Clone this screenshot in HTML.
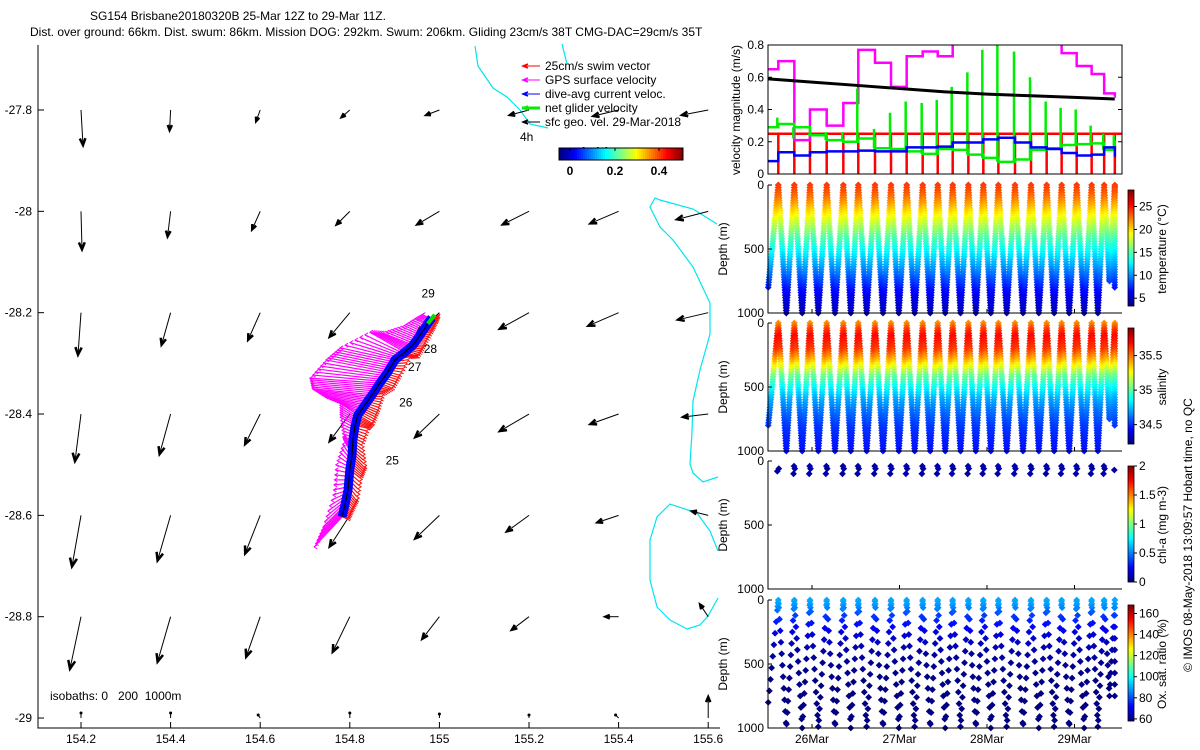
<!DOCTYPE html>
<html><head><meta charset="utf-8">
<style>
html,body{margin:0;padding:0;background:#fff;}
svg{display:block;font-family:"Liberation Sans",sans-serif;}
</style></head>
<body>
<svg id="fig" width="1200" height="750" viewBox="0 0 1200 750" xmlns="http://www.w3.org/2000/svg">
<g id="map"></g>
<g id="right"></g>
</svg>
<script>
// ===== MAP DATA =====
const mapLonTicks = [154.2,154.4,154.6,154.8,155,155.2,155.4,155.6];
const mapLatTicks = [-27.8,-28,-28.2,-28.4,-28.6,-28.8,-29];
const fieldU = [
 [0.02,-0.01,-0.04,-0.08,-0.13,-0.19,-0.25,-0.26],
 [0.01,-0.03,-0.08,-0.13,-0.22,-0.26,-0.28,-0.31],
 [-0.03,-0.09,-0.12,-0.20,-0.22,-0.29,-0.30,-0.30],
 [-0.06,-0.11,-0.15,-0.20,-0.24,-0.29,-0.28,-0.25],
 [-0.09,-0.13,-0.15,-0.20,-0.24,-0.22,-0.21,-0.16],
 [-0.11,-0.13,-0.14,-0.17,-0.17,-0.17,-0.13,-0.08],
 [0,0,-0.02,0,0,0,-0.03,0]];
const fieldV = [
 [-0.35,-0.20,-0.11,-0.07,-0.05,-0.05,-0.06,-0.05],
 [-0.38,-0.25,-0.18,-0.13,-0.13,-0.13,-0.12,-0.08],
 [-0.42,-0.32,-0.27,-0.24,-0.20,-0.16,-0.13,-0.07],
 [-0.47,-0.40,-0.30,-0.27,-0.23,-0.17,-0.10,-0.03],
 [-0.51,-0.45,-0.38,-0.31,-0.23,-0.16,-0.07,0.04],
 [-0.52,-0.45,-0.40,-0.35,-0.22,-0.13,0,0.12],
 [0.05,0.05,0.03,0.05,0.04,0.03,0.03,0.21]];
const trackLon = [154.783,154.789,154.796,154.800,154.805,154.807,154.812,154.818,154.834,154.850,154.867,154.885,154.901,154.923,154.941,154.957,154.972,154.983];
const trackLat = [-28.603,-28.580,-28.550,-28.510,-28.481,-28.451,-28.422,-28.402,-28.382,-28.362,-28.339,-28.317,-28.293,-28.278,-28.264,-28.244,-28.224,-28.210];
const gpsU = [-0.28,-0.22,-0.15,-0.14,-0.08,-0.10,-0.15,-0.18,-0.40,-0.60,-0.70,-0.62,-0.55,-0.35,-0.30,-0.18,-0.12,-0.08];
const gpsV = [-0.30,-0.22,-0.05,0.05,0.15,0.03,0.08,0.12,0.08,0.06,0.05,0.12,0.12,0.20,0.12,0.08,0.06,0.04];
const swimU = [0.05,0.06,0.08,0.10,0.12,0.08,0.12,0.14,0.12,0.10,0.12,0.11,0.14,0.12,0.10,0.10,0.08,0.06];
const swimV = [-0.02,-0.05,-0.10,-0.08,-0.12,-0.05,-0.03,-0.08,-0.05,0.01,-0.05,-0.03,0.03,-0.04,0.00,0.03,0.03,0.03];
const dayLabels = ["29","28","27","26","25"];
const dayLon = [154.96,154.965,154.93,154.91,154.88];
const dayLat = [-28.17,-28.28,-28.315,-28.385,-28.50];

// ===== TIME SERIES DATA =====
const surfTimes = [25.615,25.798,25.977,26.168,26.358,26.529,26.72,26.903,27.082,27.265,27.437,27.608,27.787,27.958,28.13,28.32,28.503,28.682,28.853,29.025,29.196,29.339,29.461];
const tStart = 25.5, tEnd = 29.458;
const dacVel = [0.08,0.135,0.115,0.135,0.14,0.14,0.145,0.14,0.14,0.165,0.165,0.17,0.195,0.195,0.215,0.225,0.195,0.165,0.155,0.13,0.115,0.12,0.165,0.11];
const netVel = [0.29,0.31,0.29,0.24,0.21,0.20,0.22,0.16,0.155,0.14,0.125,0.155,0.15,0.12,0.10,0.075,0.09,0.15,0.16,0.18,0.185,0.19,0.15,0.20];
const netSpike = [0.35,0.22,0.25,0.26,0.26,0.53,0.28,0.38,0.45,0.44,0.46,0.54,0.63,0.77,0.80,0.76,0.60,0.45,0.41,0.40,0.30,0.25,0.24];
const gpsVel = [0.65,0.70,0.21,0.40,0.30,0.44,0.77,0.69,0.54,0.73,0.76,0.73,0.85,0.85,0.85,0.85,0.85,0.85,0.85,0.75,0.67,0.62,0.50,0.48];
const geoTimes = [25.5,26.0,26.5,27.0,27.5,28.0,28.5,29.0,29.46];
const geoVel = [0.59,0.57,0.55,0.53,0.51,0.495,0.485,0.475,0.465];
const swimVel = 0.25;
const profDepth = [0,50,100,200,300,400,500,600,700,800,900,1000];
const profTemp = [24,23.5,22.5,20,17.5,15,13,11,9,7,5.5,4.5];
const profSal = [35.45,35.6,35.68,35.6,35.35,35.05,34.85,34.7,34.6,34.52,34.48,34.45];
const profOxy = [90,88,80,72,66,62,60,59,58,58,58,58];
const chlVal = [0.08,0.06,0.08,0.1,0.05,0.08,0.06,0.08,0.1,0.08,0.08,0.1,0.06,0.08,0.08,0.1,0.08,0.06,0.08,0.1,0.08,0.08,0.08];
const dateTicks = [26,27,28,29];
const dateLabels = ["26Mar","27Mar","28Mar","29Mar"];

const NS="http://www.w3.org/2000/svg";
function mk(tag,attrs,parent,txt){const e=document.createElementNS(NS,tag);for(const k in attrs)e.setAttribute(k,attrs[k]);if(txt!==undefined)e.textContent=txt;parent.appendChild(e);return e;}
function jet(f){f=Math.max(0,Math.min(1,f));const r=Math.max(0,Math.min(1,1.5-Math.abs(4*f-3)));const g=Math.max(0,Math.min(1,1.5-Math.abs(4*f-2)));const b=Math.max(0,Math.min(1,1.5-Math.abs(4*f-1)));return `rgb(${Math.round(r*255)},${Math.round(g*255)},${Math.round(b*255)})`;}
function interp(xs,ys,x){if(x<=xs[0])return ys[0];for(let i=1;i<xs.length;i++){if(x<=xs[i]){const f=(x-xs[i-1])/(xs[i]-xs[i-1]);return ys[i-1]+f*(ys[i]-ys[i-1]);}}return ys[ys.length-1];}

// ===== MAP =====
const map=document.getElementById('map');
const lonX = lon => 81 + (lon-154.2)*448;
const latY = lat => 110 + (-27.8-lat)*506.7;
const VS = 100;
let t;
t=mk('text',{x:90,y:20,'font-size':12},map,'SG154 Brisbane20180320B 25-Mar 12Z to 29-Mar 11Z.');

t=mk('text',{x:30,y:36,'font-size':12},map,'Dist. over ground: 66km. Dist. swum: 86km. Mission DOG: 292km. Swum: 206km. Gliding 23cm/s 38T CMG-DAC=29cm/s 35T');

let ax=mk('path',{d:'M38 45 V728 H720',stroke:'#000',fill:'none','stroke-width':1},map);

mapLatTicks.forEach(v=>{const y=latY(v);mk('line',{x1:38,x2:44,y1:y,y2:y,stroke:'#000'},map);
 const l=mk('text',{x:32,y:y+4,'font-size':12,'text-anchor':'end'},map,String(v));
 });
mapLonTicks.forEach(v=>{const x=lonX(v);mk('line',{x1:x,x2:x,y1:728,y2:722,stroke:'#000'},map);
 const l=mk('text',{x:x,y:743,'font-size':12,'text-anchor':'middle'},map,String(v));
 });
[['M475 46 L478 66 L493 88 L507 97 L520 110 L530 124 L548 128','M562 44 L567 64'],
 ['M717 224 L693 209 L660 200 L655 198 L650 207 L660 227 L673 240 L693 267 L710 303 L710 334 L700 370 L693 401 L692 432 L690 464 L693 473 L703 482 L718 477'],
 ['M718 551 L710 531 L697 513 L670 504 L657 517 L650 540 L650 580 L657 607 L670 620 L687 629 L700 625 L708 616 L718 598']].forEach(ds=>ds.forEach(d=>{
 const c=mk('path',{d:d,stroke:'#00e5ee',fill:'none','stroke-width':1.2},map);
 }));
function arrow(parent,x,y,u,v,color,w,head){
 const x2=x+u*VS,y2=y-v*VS;const L=Math.hypot(x2-x,y2-y);
 const g=mk('g',{},parent);
 mk('line',{x1:x,y1:y,x2:x2,y2:y2,stroke:color,'stroke-width':w},g);
 if(L>8){const a=Math.atan2(y2-y,x2-x);const h=head;
  const p1=[x2-h*Math.cos(a-0.4),y2-h*Math.sin(a-0.4)],p2=[x2-h*Math.cos(a+0.4),y2-h*Math.sin(a+0.4)];
  mk('path',{d:`M${p1[0]} ${p1[1]} L${x2} ${y2} L${p2[0]} ${p2[1]}`,stroke:color,'stroke-width':2.5,fill:'none'},g);}
 else if(L>1){mk('circle',{cx:x2,cy:y2,r:1.5,fill:color},g);}
 return g;}
mapLatTicks.forEach((lat,r)=>mapLonTicks.forEach((lon,c)=>{
 const g=arrow(map,lonX(lon),latY(lat),fieldU[r][c],fieldV[r][c],'#000',1,Math.min(9,3+Math.hypot(fieldU[r][c],fieldV[r][c])*12));
 }));
function fan(U,V,color,name){
 const g=mk('g',{},map);
 for(let i=0;i<trackLon.length-1;i++){
  const x0=lonX(trackLon[i]),y0=latY(trackLat[i]),x1=lonX(trackLon[i+1]),y1=latY(trackLat[i+1]);
  for(let s=0;s<6;s++){const f=s/6;const xs=x0+(x1-x0)*f,ys=y0+(y1-y0)*f;const u=U[i]+(U[i+1]-U[i])*f,v=V[i]+(V[i+1]-V[i])*f;
   mk('line',{x1:xs,y1:ys,x2:xs+u*VS,y2:ys-v*VS,stroke:color,'stroke-width':1.2},g);
   mk('path',{d:`M${xs+u*VS+3} ${ys-v*VS-2} L${xs+u*VS} ${ys-v*VS} L${xs+u*VS+3} ${ys-v*VS+2}`,stroke:color,fill:'none','stroke-width':1},g);}}}
fan(swimU,swimV,'#ff1010','swim-vector-fan');
fan(gpsU,gpsV,'#ff00ff','gps-surface-velocity-fan');
let tp=trackLon.map((l,i)=>`${lonX(l)},${latY(trackLat[i])}`).join(' ');
let bl=mk('polyline',{points:tp,fill:'none',stroke:'#0000ff','stroke-width':9,'stroke-linejoin':'round'},map);

bl=mk('polyline',{points:tp,fill:'none',stroke:'#000','stroke-width':1.2},map);

const last=trackLon.length-1;
bl=mk('line',{x1:lonX(trackLon[last])-4,y1:latY(trackLat[last])+6,x2:lonX(trackLon[last])+3,y2:latY(trackLat[last])-3,stroke:'#00e000','stroke-width':4},map);

dayLabels.forEach((d,i)=>{const l=mk('text',{x:lonX(dayLon[i]),y:latY(dayLat[i]),'font-size':12},map,d);
 });
const legItems=[['#ff0000','25cm/s swim vector',1],['#ff00ff','GPS surface velocity',1],['#0000ff','dive-avg current veloc.',1],['#00ee00','net glider velocity',3],['#000','sfc geo. vel. 29-Mar-2018',1]];
legItems.forEach((it,i)=>{const y=66+i*14;const g=mk('g',{},map);
 
 mk('line',{x1:522,x2:540,y1:y,y2:y,stroke:it[0],'stroke-width':it[2]},g);
 mk('path',{d:`M528 ${y-2} L523 ${y} L528 ${y+2}`,stroke:it[0],fill:'none','stroke-width':1.5},g);
 mk('text',{x:545,y:y+4,'font-size':12},g,it[1]);});
t=mk('text',{x:520,y:141,'font-size':12},map,'4h');
t=mk('text',{x:595,y:156,'font-size':12,'font-weight':'bold','text-anchor':'middle'},map,'(m/s)');
const cbg=mk('g',{},map);
for(let i=0;i<62;i++)mk('rect',{x:559+i*2,y:148,width:2.2,height:12,fill:jet(i/61)},cbg);
mk('rect',{x:559,y:148,width:124,height:12,fill:'none',stroke:'#000'},cbg);
[['0',570],['0.2',615],['0.4',659]].forEach(a=>{mk('text',{x:a[1],y:175,'font-size':12,'font-weight':'bold','text-anchor':'middle'},cbg,a[0]);mk('line',{x1:a[1],x2:a[1],y1:148,y2:151,stroke:'#000'},cbg);});
t=mk('text',{x:50,y:700,'font-size':12},map,'isobaths: 0\u00a0\u00a0\u00a0200\u00a0\u00a01000m');

// ===== RIGHT PANELS =====
const R=document.getElementById('right');
const X0=768,X1=1122;
const tX = d => 812 + (d-26)*87.5;
const vTop=45,vBot=174;
const vY = v => vBot - Math.min(v,0.82)/0.8*(vBot-vTop);
const vp=mk('g',{},R);
const vclip=mk('clipPath',{id:'vclip'},vp);mk('rect',{x:X0,y:vTop,width:X1-X0,height:vBot-vTop},vclip);
const vd=mk('g',{'clip-path':'url(#vclip)'},vp);
const bounds=[tStart].concat(surfTimes).concat([tEnd]);
function steps(vals,color,w,name){let d='';for(let i=0;i<vals.length;i++){const xa=tX(bounds[i]),xb=tX(bounds[i+1]),y=vY(vals[i]);d+=(i===0?'M':'L')+xa+' '+y+' L'+xb+' '+y+' ';}
 const p=mk('path',{d:d,stroke:color,'stroke-width':w,fill:'none'},vd);}
let rd='M'+X0+' '+vY(swimVel)+' L'+X1+' '+vY(swimVel)+' ';
surfTimes.forEach(s=>{rd+='M'+tX(s)+' '+vY(swimVel)+' V'+vY(0)+' ';});
let rp=mk('path',{d:rd,stroke:'#ff0000','stroke-width':2.5,fill:'none'},vd);
steps(gpsVel,'#ff00ff',2.5,'gps-velocity-series');
let gd='';surfTimes.forEach((s,i)=>{gd+='M'+(tX(s)-1)+' '+vY(Math.min(netVel[i],netVel[i+1]))+' V'+vY(netSpike[i])+' ';});
let gp=mk('path',{d:gd,stroke:'#00ee00','stroke-width':2.5,fill:'none'},vd);
steps(netVel,'#00ee00',2.5,'net-glider-velocity-series');
steps(dacVel,'#0000ff',2.5,'dive-avg-current-series');
let gpts=geoTimes.map((d,i)=>`${tX(d)},${vY(geoVel[i])}`).join(' ');
let gl=mk('polyline',{points:gpts,stroke:'#000','stroke-width':3,fill:'none'},vd);
mk('rect',{x:X0,y:vTop,width:X1-X0,height:vBot-vTop,fill:'none',stroke:'#000'},vp);
[0,0.2,0.4,0.6,0.8].forEach(v=>{const y=vY(v);mk('line',{x1:X0,x2:X0+4,y1:y,y2:y,stroke:'#000'},vp);mk('line',{x1:X1,x2:X1-4,y1:y,y2:y,stroke:'#000'},vp);
 const l=mk('text',{x:X0-4,y:y+4,'font-size':12,'text-anchor':'end'},vp,String(v));});
t=mk('text',{x:0,y:0,'font-size':12,'text-anchor':'middle',transform:'translate(740,110) rotate(-90)'},vp,'velocity magnitude (m/s)');

const panels=[
 {top:185,name:'temperature',prof:profTemp,vmin:3.3,vmax:28.6,ticks:[5,10,15,20,25],label:'temperature (°C)',step:1},
 {top:323,name:'salinity',prof:profSal,vmin:34.22,vmax:35.9,ticks:[34.5,35,35.5],label:'salinity',step:1},
 {top:461,name:'chlorophyll',prof:null,vmin:0,vmax:2,ticks:[0,0.5,1,1.5,2],label:'chl-a (mg m-3)',step:1},
 {top:600,name:'oxygen',prof:profOxy,vmin:58,vmax:168,ticks:[60,80,100,120,140,160],label:'Ox. sat. ratio (%)',step:3}];
panels.forEach((P,pi)=>{
 const g=mk('g',{},R);
 const top=P.top,bot=top+128;const dY=z=>top+z/1000*128;
 const cmap=v=>jet((v-P.vmin)/(P.vmax-P.vmin));
 const dz = P.step>1 ? 30 : 20;
 for(let i=0;i<bounds.length-1;i++){
  const ta=bounds[i],tb=bounds[i+1];const mid=(ta+tb)/2;
  const maxD = (i===0)?800:(i===bounds.length-2?800:(i===bounds.length-3?750:1000));
  const pts=[];
  if(i===0){for(let z=maxD;z>=0;z-=dz)pts.push([ta+(tb-ta)*(1-z/maxD),z]);}
  else{for(let z=0;z<=maxD;z+=dz)pts.push([ta+(mid-ta)*z/maxD,z]);
   if(i<bounds.length-2)for(let z=maxD;z>=0;z-=dz)pts.push([mid+(tb-mid)*(1-z/maxD),z]);}
  pts.forEach((p,k)=>{
   let val;
   if(P.prof===null){ if(p[1]<40||p[1]>100||i>=chlVal.length||k%3) return; val=chlVal[i]; }
   else { if(P.step>1 && (k+i)%P.step!==0 && p[1]>60) return; val=interp(profDepth,P.prof,p[1]); }
   const c=mk('rect',{x:tX(p[0])-2.4,y:dY(p[1])-2.4,width:4.8,height:4.8,fill:cmap(val),transform:`rotate(45 ${tX(p[0])} ${dY(p[1])})`},g);
   });
 }
 mk('path',{d:`M${X0} ${top} V${bot} H${X1}`,stroke:'#000',fill:'none'},g);
 [[0,'0'],[500,'500'],[1000,'1000']].forEach(a=>{const y=dY(a[0]);mk('line',{x1:X0,x2:X0+4,y1:y,y2:y,stroke:'#000'},g);
  const l=mk('text',{x:X0-4,y:y+4,'font-size':12,'text-anchor':'end'},g,a[1]);});
 t=mk('text',{x:0,y:0,'font-size':12,'text-anchor':'middle',transform:`translate(727,${top+64}) rotate(-90)`},g,'Depth (m)');
 dateTicks.forEach(d=>{mk('line',{x1:tX(d),x2:tX(d),y1:bot,y2:bot-4,stroke:'#000'},g);});
 const cb=mk('g',{},g);
 const cTop=top+5,cBot=top+121;const cY=v=>cBot-(v-P.vmin)/(P.vmax-P.vmin)*(cBot-cTop);
 for(let k=0;k<58;k++)mk('rect',{x:1128,y:cBot-(k+1)*2,width:6,height:2.2,fill:jet((k+0.5)/58)},cb);
 mk('rect',{x:1128,y:cTop,width:6,height:cBot-cTop,fill:'none',stroke:'#000','stroke-width':0.8},cb);
 P.ticks.forEach(v=>{const y=cY(v);mk('line',{x1:1134,x2:1137,y1:y,y2:y,stroke:'#000'},cb);
  mk('text',{x:1139,y:y+4,'font-size':12},cb,String(v));});
 t=mk('text',{x:0,y:0,'font-size':12,'text-anchor':'middle',transform:`translate(1166,${top+64}) rotate(-90)`},g,P.label);
});
dateTicks.forEach((d,i)=>{const l=mk('text',{x:tX(d),y:743,'font-size':12,'text-anchor':'middle'},R,dateLabels[i]);
 });
t=mk('text',{x:0,y:0,'font-size':12,'text-anchor':'middle',transform:'translate(1192,535) rotate(-90)'},R,'© IMOS 08-May-2018 13:09:57 Hobart time, no QC');

</script>
</body></html>
